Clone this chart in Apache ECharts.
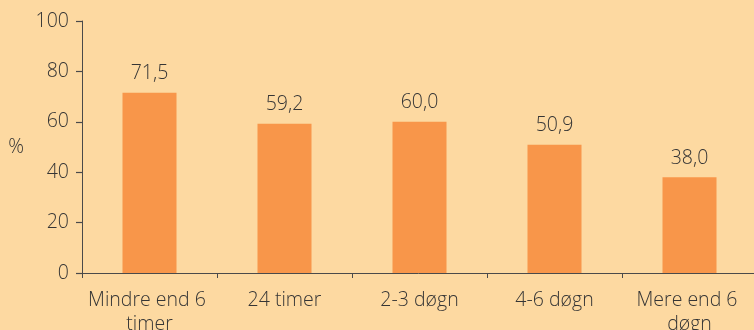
<!DOCTYPE html>
<html><head><meta charset="utf-8">
<script src="https://cdn.jsdelivr.net/npm/echarts@6/dist/echarts.min.js"></script>
<style>html,body{margin:0;padding:0;background:#FDD9A1;}#c{width:754px;height:330px;}</style>
</head><body><div id="c"></div>
<script>
const categories = ["Mindre end 6 timer", "24 timer", "2-3 døgn", "4-6 døgn", "Mere end 6 døgn"];
const values = [71.5, 59.2, 60.0, 50.9, 38.0];
const yTicks = [0, 20, 40, 60, 80, 100];

const txt = '#353535';
const font = 'Open Sans';
const fw = 300;
const chart = echarts.init(document.getElementById('c'));
chart.setOption({
  backgroundColor: '#FDD9A1',
  animation: false,
  grid: { left: 82, top: 21, width: 675, height: 252, containLabel: false, outerBoundsMode: 'none' },
  xAxis: {
    type: 'category', data: categories,
    axisLine: { lineStyle: { color: '#4a4a4a', width: 1 } },
    axisTick: { show: true, length: 5, lineStyle: { color: '#4a4a4a', width: 1 } },
    axisLabel: { color: txt, fontFamily: font, fontWeight: fw, fontSize: 19.5, margin: 15, lineHeight: 24,
                 width: 132, overflow: 'break', interval: 0 }
  },
  yAxis: {
    type: 'value', min: yTicks[0], max: yTicks[yTicks.length - 1], interval: 20,
    name: '%', nameLocation: 'middle', nameRotate: 0, nameGap: 58,
    nameTextStyle: { color: txt, fontFamily: font, fontWeight: fw, fontSize: 19.5 },
    splitLine: { show: false },
    axisLine: { show: true, lineStyle: { color: '#4a4a4a', width: 1 } },
    axisTick: { show: true, inside: false, length: 6, lineStyle: { color: '#4a4a4a', width: 1.2 } },
    axisLabel: { color: txt, fontFamily: font, fontWeight: fw, fontSize: 19.5, margin: 13 }
  },
  series: [{
    type: 'bar', data: values, barWidth: 54,
    itemStyle: { color: '#F8964A' },
    label: { show: true, position: 'top', distance: 9, color: txt, fontFamily: font, fontWeight: fw, fontSize: 19.5,
             formatter: p => p.value.toFixed(1).replace('.', ',') }
  }]
});
</script></body></html>
